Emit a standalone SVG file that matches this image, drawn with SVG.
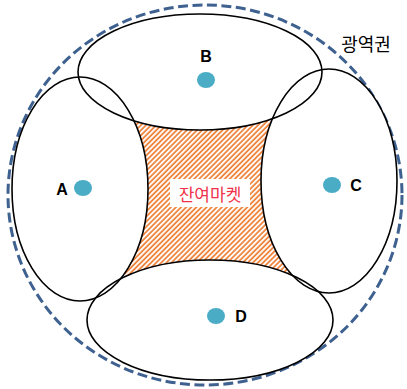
<svg xmlns="http://www.w3.org/2000/svg" width="407" height="389" viewBox="0 0 407 389">
<style>
.ring{fill:#fff;stroke:none}
.edge{fill:none;stroke:#000;stroke-width:1.6}
.dot{fill:#4BACC6}
.lbl{font-family:"Liberation Sans",Arial,sans-serif;font-weight:bold;font-size:16px;fill:#000;dominant-baseline:central}
.kr{font-family:"Noto Sans CJK KR","Noto Sans",sans-serif;dominant-baseline:central;text-anchor:middle}
</style>
<defs>
<pattern id="hatch" patternUnits="userSpaceOnUse" width="3.6" height="3.6" patternTransform="rotate(45)">
<rect width="3.6" height="3.6" fill="#fff"/>
<line x1="1" y1="0" x2="1" y2="3.6" stroke="#ED7D31" stroke-width="1.7"/>
</pattern>
</defs>
<rect width="407" height="389" fill="#fff"/>
<g id="region">
<ellipse cx="205" cy="195" rx="197" ry="190" fill="none" stroke="#3E6190" stroke-width="3" stroke-dasharray="10 4.5"/>
<text class="kr" x="366" y="43" font-size="18" fill="#000">광역권</text>
</g>
<g id="residual-fill">
<rect x="125" y="115" width="165" height="165" fill="url(#hatch)"/>
</g>
<g id="covers">
<ellipse class="ring" cx="200" cy="72" rx="122" ry="58"/>
<ellipse class="ring" cx="80" cy="189" rx="68" ry="112"/>
<ellipse class="ring" cx="329" cy="181" rx="68" ry="112"/>
<ellipse class="ring" cx="210" cy="320" rx="123" ry="60"/>
</g>
<g id="connectors"></g>
<g id="B">
<ellipse class="edge" cx="200" cy="72" rx="122" ry="58"/>
<ellipse class="dot" cx="206" cy="80" rx="9" ry="8"/>
<text class="lbl" x="206" y="56" text-anchor="middle">B</text>
</g>
<g id="A">
<ellipse class="edge" cx="80" cy="189" rx="68" ry="112"/>
<ellipse class="dot" cx="83" cy="188" rx="9" ry="8"/>
<text class="lbl" x="62" y="189" text-anchor="middle">A</text>
</g>
<g id="C">
<ellipse class="edge" cx="329" cy="181" rx="68" ry="112"/>
<ellipse class="dot" cx="332" cy="185" rx="9" ry="8"/>
<text class="lbl" x="356" y="185" text-anchor="middle">C</text>
</g>
<g id="D">
<ellipse class="edge" cx="210" cy="320" rx="123" ry="60"/>
<ellipse class="dot" cx="216" cy="316" rx="9" ry="8"/>
<text class="lbl" x="241" y="316" text-anchor="middle">D</text>
</g>
<g id="residual">
<rect x="170" y="179" width="80" height="28" fill="#fff"/>
<text class="kr" x="210" y="193" font-size="17" fill="#F0324A">잔여마켓</text>
</g>
</svg>
